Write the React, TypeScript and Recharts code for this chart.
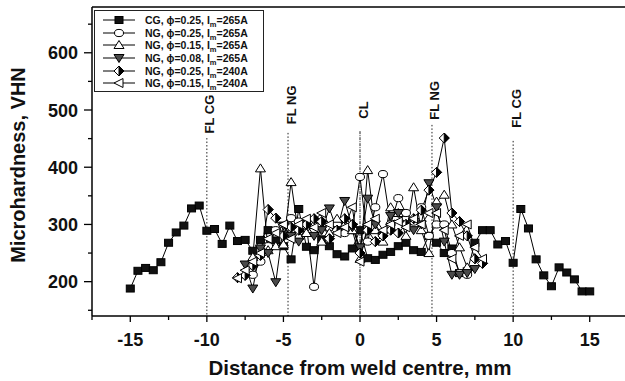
import React from 'react';
import { LineChart, Line, XAxis, YAxis, ReferenceLine, ReferenceDot } from 'recharts';

// ---------- data ----------
const cgX = [-15,-14.5,-14,-13.5,-13,-12.5,-12,-11.5,-11,-10.5,-10,-9.5,-9,-8.5,-8,-7.5,-7,-6.5,-6,-5.5,-5,-4.5,-4,-3.5,-3,-2.5,-2,-1.5,-1,-0.5,0,0.5,1,1.5,2,2.5,3,3.5,4,4.5,5,5.5,6,6.5,7,7.5,8,8.5,9,9.5,10,10.5,11,11.5,12,12.5,13,13.5,14,14.5,15];
const cgY = [188,219,224,220,234,268,286,298,328,333,289,292,266,298,271,273,254,273,290,272,262,239,327,261,255,274,262,248,244,258,290,241,238,247,252,262,268,255,252,280,268,250,258,215,218,268,290,290,265,271,233,327,293,239,211,192,225,216,204,183,183];

const ng1X = [-7,-6.5,-6,-5.5,-5,-4.5,-4,-3.5,-3,-2.5,-2,-1.5,-1,-0.5,0,0.5,1,1.5,2,2.5,3,3.5,4,4.5,5,5.5,6,6.5,7];
const ng1Y = [212,235,262,290,282,311,305,298,191,310,295,300,285,290,383,270,330,388,300,346,320,305,330,280,300,300,250,215,212];

const ng2X = [-7,-6.5,-6,-5.5,-5,-4.5,-4,-3.5,-3,-2.5,-2,-1.5,-1,-0.5,0,0.5,1,1.5,2,2.5,3,3.5,4,4.5,5,5.5,6,6.5,7];
const ng2Y = [243,398,255,262,265,374,280,285,300,270,285,310,300,290,240,395,290,270,330,320,280,365,290,250,340,352,300,260,225];

const ng3X = [-7.5,-7,-6.5,-6,-5.5,-5,-4.5,-4,-3.5,-3,-2.5,-2,-1.5,-1,-0.5,0,0.5,1,1.5,2,2.5,3,3.5,4,4.5,5,5.5,6,6.5,7,7.5];
const ng3Y = [230,188,258,250,199,298,280,270,300,280,290,328,290,341,295,260,345,300,280,315,320,300,290,300,372,330,270,212,212,215,222];

const ng4X = [-8,-7.5,-7,-6.5,-6,-5.5,-5,-4.5,-4,-3.5,-3,-2.5,-2,-1.5,-1,-0.5,0,0.5,1,1.5,2,2.5,3,3.5,4,4.5,5,5.5,6,6.5,7,7.5,8];
const ng4Y = [207,211,228,246,326,311,280,295,290,300,310,305,275,290,310,300,250,290,270,280,290,285,300,310,325,360,391,451,320,305,280,240,232];

const ng5X = [-8,-7.5,-7,-6.5,-6,-5.5,-5,-4.5,-4,-3.5,-3,-2.5,-2,-1.5,-1,-0.5,0,0.5,1,1.5,2,2.5,3,3.5,4,4.5,5,5.5,6,6.5,7,7.5,8];
const ng5Y = [206,220,235,250,275,285,300,275,300,310,295,320,300,285,295,330,235,300,310,290,300,305,295,310,300,320,320,290,240,280,300,260,240];

const seriesNames = [
  ['CG', '0.25', '265A'],
  ['NG', '0.25', '265A'],
  ['NG', '0.15', '265A'],
  ['NG', '0.08', '265A'],
  ['NG', '0.25', '240A'],
  ['NG', '0.15', '240A'],
];
const markerKinds = ['square', 'circle', 'up', 'down', 'halfdiamond', 'left'];

const xTicks = [-17.5,-15,-12.5,-10,-7.5,-5,-2.5,0,2.5,5,7.5,10,12.5,15,17.5];
const yTicks = [150,200,250,300,350,400,450,500,550,600,650];

const refLines = [
  { x: -10, top: 451, label: 'FL CG', labelY: 493, dash: '1.5 2' },
  { x: -4.7, top: 460, label: 'FL NG', labelY: 509, dash: '1.5 2' },
  { x: 0, top: 463, label: 'CL', labelY: 500, dash: '3 1 1 1' },
  { x: 4.7, top: 474, label: 'FL NG', labelY: 517, dash: '1.5 2' },
  { x: 10, top: 446, label: 'FL CG', labelY: 503, dash: '1.5 2' },
];

const toData = (xs: number[], ys: number[]) => xs.map((x, i) => ({ x, y: ys[i] }));
const seriesData = [
  toData(cgX, cgY),
  toData(ng1X, ng1Y),
  toData(ng2X, ng2Y),
  toData(ng3X, ng3Y),
  toData(ng4X, ng4Y),
  toData(ng5X, ng5Y),
];

const FONT = '"Liberation Sans", Arial, Helvetica, sans-serif';

function Marker({ kind, cx, cy }: { kind: string; cx: number; cy: number }) {
  const s = 1;
  switch (kind) {
    case 'square':
      return <rect x={cx - 4} y={cy - 3.5} width={8} height={7} fill="#111" stroke="#000" strokeWidth={s} />;
    case 'circle':
      return <ellipse cx={cx} cy={cy} rx={4.5} ry={3.6} fill="#fff" stroke="#000" strokeWidth={s} />;
    case 'up':
      return <polygon points={`${cx},${cy - 4.5} ${cx + 5},${cy + 3.5} ${cx - 5},${cy + 3.5}`} fill="#fff" stroke="#000" strokeWidth={s} />;
    case 'down':
      return <polygon points={`${cx - 5},${cy - 3.5} ${cx + 5},${cy - 3.5} ${cx},${cy + 4.5}`} fill="#4a4a4a" stroke="#000" strokeWidth={s} />;
    case 'halfdiamond':
      return (
        <g>
          <polygon points={`${cx},${cy - 5} ${cx + 5},${cy} ${cx},${cy + 5} ${cx - 5},${cy}`} fill="#fff" stroke="#000" strokeWidth={s} />
          <polygon points={`${cx},${cy - 5} ${cx + 5},${cy} ${cx},${cy + 5}`} fill="#000" stroke="#000" strokeWidth={s} />
        </g>
      );
    case 'left':
      return <polygon points={`${cx - 5},${cy} ${cx + 4},${cy - 4.5} ${cx + 4},${cy + 4.5}`} fill="#fff" stroke="#000" strokeWidth={s} />;
  }
  return null;
}

const makeDot = (kind: string) => (props: any) => {
  const { cx, cy, index } = props;
  if (cx == null || cy == null) return <g key={`d-${kind}-${index}`} />;
  return <g key={`d-${kind}-${index}`}><Marker kind={kind} cx={cx} cy={cy} /></g>;
};

const XTick = (props: any) => {
  const { x, y, payload } = props;
  const v = payload.value;
  const major = Math.abs(v % 5) < 1e-9;
  return (
    <g>
      <line x1={x} x2={x} y1={y} y2={y + (major ? 6 : 4)} stroke="#000" strokeWidth={1.3} />
      {major && (
        <text x={x} y={y + 30} textAnchor="middle" fontFamily={FONT} fontWeight="bold" fontSize={18} fill="#111">
          {v}
        </text>
      )}
    </g>
  );
};

const YTick = (props: any) => {
  const { x, y, payload } = props;
  const v = payload.value;
  const major = v % 100 === 0;
  return (
    <g>
      <line x1={x} x2={x - (major ? 8 : 4)} y1={y} y2={y} stroke="#000" strokeWidth={1.3} />
      {major && (
        <text x={x - 14} y={y + 6.5} textAnchor="end" fontFamily={FONT} fontWeight="bold" fontSize={18} fill="#111">
          {v}
        </text>
      )}
    </g>
  );
};

const RefLabel = (text: string) => (props: any) => {
  const { cx, cy } = props;
  return (
    <text
      x={cx + 3}
      y={cy}
      transform={`rotate(-90 ${cx + 3} ${cy})`}
      textAnchor="middle"
      dominantBaseline="central"
      fontFamily={FONT}
      fontWeight="bold"
      fontSize={13}
      fill="#111"
    >
      {text}
    </text>
  );
};

function LegendBox() {
  return (
    <div
      style={{
        position: 'absolute',
        left: 94,
        top: 10,
        width: 170,
        height: 82,
        border: '1px solid #222',
        background: '#fff',
        boxSizing: 'border-box',
        paddingTop: 3,
      }}
    >
      {seriesNames.map((n, i) => (
        <div key={i} style={{ display: 'flex', alignItems: 'center', height: 12.6, fontFamily: FONT, fontWeight: 'bold', fontSize: 10.5, color: '#111', whiteSpace: 'nowrap' }}>
          <svg width={44} height={12} style={{ marginLeft: 6, flex: 'none' }}>
            <line x1={2} x2={34} y1={6} y2={6} stroke="#000" strokeWidth={1} />
            <Marker kind={markerKinds[i]} cx={18} cy={6} />
          </svg>
          <span>
            {n[0]}, {'\u03D5'}={n[1]}, I<sub style={{ fontSize: 7.5, verticalAlign: -3, lineHeight: 0 }}>m</sub>={n[2]}
          </span>
        </div>
      ))}
    </div>
  );
}

export default function App() {
  return (
    <div style={{ position: 'absolute', left: 0, top: 0, width: 625, height: 381, overflow: 'hidden', background: '#fff' }}>
      <LineChart width={640} height={381} margin={{ top: 7, right: 12, bottom: 0, left: 0 }}>
        <XAxis
          type="number"
          dataKey="x"
          domain={[-17.5, 17.5]}
          ticks={xTicks}
          interval={0}
          tick={<XTick />}
          tickSize={0}
          tickMargin={0}
          tickLine={false}
          height={65}
          allowDataOverflow
          stroke="#000"
          strokeWidth={1.5}
        />
        <YAxis
          type="number"
          dataKey="y"
          domain={[140, 680]}
          ticks={yTicks}
          interval={0}
          tick={<YTick />}
          tickSize={0}
          tickMargin={0}
          tickLine={false}
          width={92}
          allowDataOverflow
          stroke="#000"
          strokeWidth={1.5}
        />
        <ReferenceLine y={680} stroke="#000" strokeWidth={1.5} ifOverflow="visible" />
        {refLines.map((r, i) => (
          <ReferenceLine
            key={`rl-${i}`}
            segment={[{ x: r.x, y: r.top }, { x: r.x, y: 140 }]}
            stroke="#222"
            strokeWidth={1}
            strokeDasharray={r.dash}
          />
        ))}
        {refLines.map((r, i) => (
          <ReferenceDot key={`rd-${i}`} x={r.x} y={r.labelY} r={0} shape={RefLabel(r.label)} />
        ))}
        {seriesData.map((d, i) => (
          <Line
            key={`s-${i}`}
            data={d}
            dataKey="y"
            type="linear"
            stroke="#000"
            strokeWidth={1}
            dot={makeDot(markerKinds[i])}
            activeDot={false}
            isAnimationActive={false}
            name={seriesNames[i].join(' ')}
          />
        ))}
      </LineChart>
      <svg width={625} height={381} style={{ position: 'absolute', left: 0, top: 0, pointerEvents: 'none' }}>
        <text x={18} y={165} transform="rotate(-90 18 165)" textAnchor="middle" dominantBaseline="central" fontFamily={FONT} fontWeight="bold" fontSize={20} fill="#111">
          Microhardness, VHN
        </text>
        <text x={360} y={375} textAnchor="middle" fontFamily={FONT} fontWeight="bold" fontSize={20.5} fill="#111">
          Distance from weld centre, mm
        </text>
      </svg>
      <LegendBox />
    </div>
  );
}
